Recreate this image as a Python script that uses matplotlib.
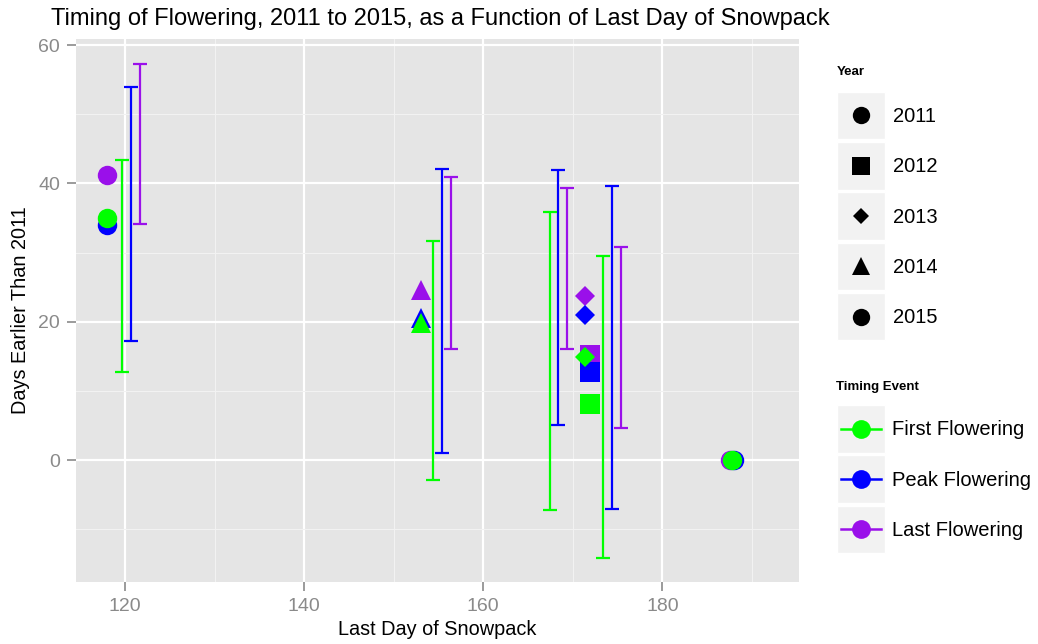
import matplotlib
matplotlib.use("Agg")
import matplotlib.pyplot as plt
from matplotlib.patches import Rectangle

plt.rcParams['font.family'] = ['Liberation Sans', 'DejaVu Sans']

# ---- data ----
years = ["2011", "2012", "2013", "2014", "2015"]
events = ["First Flowering", "Peak Flowering", "Last Flowering"]
event_colors = {"First Flowering": "#00FF00",
                "Peak Flowering": "#0000FF",
                "Last Flowering": "#9A10EA"}
year_markers = {"2011": "o", "2012": "s", "2013": "D", "2014": "^", "2015": "o"}
year_msize = {"2011": 14, "2012": 14, "2013": 10, "2014": 15, "2015": 14}

# last day of snowpack and days earlier than 2011, per event (order = years)
snow_day = {
    "First Flowering": [118, 171.9, 171.4, 153, 187.8],
    "Peak Flowering":  [118, 171.9, 171.4, 153, 188.0],
    "Last Flowering":  [118, 171.9, 171.4, 153, 187.6],
}
days_earlier = {
    "First Flowering": [35.0, 8.1, 14.9, 19.8, 0.0],
    "Peak Flowering":  [34.0, 12.8, 21.0, 20.5, 0.0],
    "Last Flowering":  [41.3, 15.2, 23.7, 24.6, 0.0],
}

# ranges drawn as error bars
bar_x = {
    "First Flowering": [119.6, 154.4, 167.4, 173.4],
    "Peak Flowering":  [120.6, 155.4, 168.4, 174.4],
    "Last Flowering":  [121.7, 156.4, 169.4, 175.4],
}
bar_low = {
    "First Flowering": [12.8, -2.9, -7.2, -14.1],
    "Peak Flowering":  [17.2, 1.0, 5.1, -7.1],
    "Last Flowering":  [34.1, 16.1, 16.1, 4.7],
}
bar_high = {
    "First Flowering": [43.4, 31.7, 35.9, 29.5],
    "Peak Flowering":  [54.0, 42.1, 42.0, 39.7],
    "Last Flowering":  [57.3, 40.9, 39.4, 30.8],
}

x_ticks = [120, 140, 160, 180]
y_ticks = [0, 20, 40, 60]

# ---- figure ----
W, H = 1038, 644
fig = plt.figure(figsize=(W / 100, H / 100), dpi=100)
fig.patch.set_facecolor("white")

L, R, T, B = 76, 799.3, 39, 581.7
ax = fig.add_axes([L / W, 1 - B / H, (R - L) / W, (B - T) / H])
ax.set_facecolor("#E5E5E5")
for s in ax.spines.values():
    s.set_visible(False)

ax.set_xlim(114.5, 195.3)
ax.set_ylim(-17.6, 60.9)
ax.set_xticks(x_ticks)
ax.set_yticks(y_ticks)
ax.set_xticks([130, 150, 170, 190], minor=True)
ax.set_yticks([-10, 10, 30, 50], minor=True)
ax.grid(which="major", color="white", linewidth=1.6)
ax.grid(which="minor", color="#F2F2F2", linewidth=0.8)
ax.set_axisbelow(True)
ax.tick_params(which="major", length=6.5, width=1.2, color="#8A8A8A",
               labelcolor="#8A8A8A", labelsize=14, pad=5)
ax.tick_params(which="minor", length=0)

# error bars
for ev in events[::-1]:
    c = event_colors[ev]
    for xi, lo, hi in zip(bar_x[ev], bar_low[ev], bar_high[ev]):
        ax.errorbar([xi], [(lo + hi) / 2], yerr=[[(hi - lo) / 2], [(hi - lo) / 2]],
                    fmt="none", ecolor=c, elinewidth=1.6, capsize=4.8,
                    capthick=1.6, zorder=3)

# points: last, peak, then first on top
for ev in events[::-1]:
    c = event_colors[ev]
    for i, yr in enumerate(years):
        ax.plot(snow_day[ev][i], days_earlier[ev][i], linestyle="none",
                marker=year_markers[yr], markersize=year_msize[yr],
                color=c, markeredgewidth=0, zorder=4)

ax.set_xlabel("Last Day of Snowpack", fontsize=14.3, color="black", labelpad=4)
ax.set_ylabel("Days Earlier Than 2011", fontsize=14.3, color="black", labelpad=6)
fig.text(440 / W, 1 - 19 / H,
         "Timing of Flowering, 2011 to 2015, as a Function of Last Day of Snowpack",
         ha="center", va="center", fontsize=17)

# ---- legend drawn in pixel coordinates ----
lg = fig.add_axes([0, 0, 1, 1], facecolor="none")
lg.set_xlim(0, W)
lg.set_ylim(H, 0)
lg.axis("off")

kx0, kw, kh, pitch = 836.5, 48.5, 47.5, 50.3
lg.text(kx0, 72, "Year", fontsize=9.5, fontweight="bold", va="center", ha="left")
for i, yr in enumerate(years):
    y0 = 91.7 + i * pitch
    lg.add_patch(Rectangle((kx0, y0), kw, kh, facecolor="#F2F2F2",
                           edgecolor="white", linewidth=1))
    lg.plot(kx0 + kw / 2, y0 + kh / 2, marker=year_markers[yr],
            markersize=year_msize[yr] - 1.5, color="black", markeredgewidth=0)
    lg.text(892.5, y0 + kh / 2 + 1, yr, fontsize=14.5, va="center", ha="left")

lg.text(kx0, 387, "Timing Event", fontsize=9.5, fontweight="bold",
        va="center", ha="left")
for i, ev in enumerate(events):
    y0 = 405 + i * pitch
    c = event_colors[ev]
    lg.add_patch(Rectangle((kx0, y0), kw, kh, facecolor="#F2F2F2",
                           edgecolor="white", linewidth=1))
    lg.plot([kx0 + 4, kx0 + kw - 4], [y0 + kh / 2] * 2, color=c, linewidth=1.8)
    lg.plot(kx0 + kw / 2, y0 + kh / 2, marker="o", markersize=13.5, color=c,
            markeredgewidth=0)
    lg.text(892.5, y0 + kh / 2 + 1, ev, fontsize=14.5, va="center", ha="left")

fig.savefig("out.png", dpi=100)
